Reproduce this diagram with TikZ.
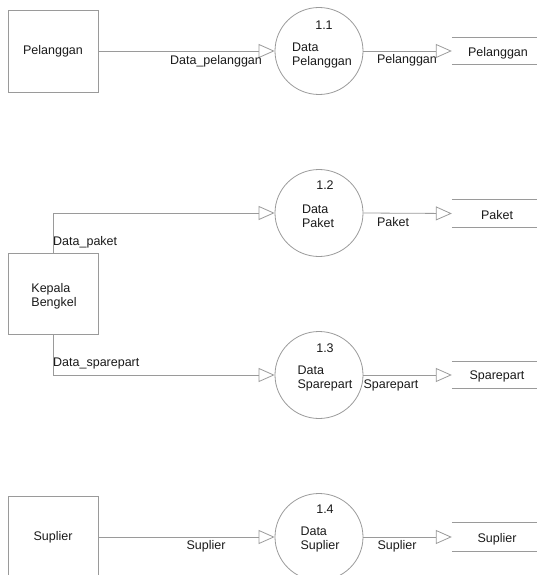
\documentclass[tikz,border=0pt]{standalone}
\usepackage{fontspec}
\setmainfont{Liberation Sans}
\usetikzlibrary{arrows.meta}
\definecolor{linegray}{HTML}{9A9A9A}
\definecolor{txt}{HTML}{1A1A1A}
\tikzset{
  every node/.style={font=\fontsize{12.5}{14}\selectfont, text=txt},
  entity/.style={draw=linegray, line width=0.8pt, minimum width=90pt, minimum height=82pt, inner sep=0pt},
  proc/.style={draw=linegray, line width=0.8pt, ellipse, minimum width=88pt, minimum height=87pt, inner sep=0pt},
  store/.style={minimum width=85pt, inner sep=0pt},
  storeline/.style={draw=linegray, line width=0.8pt},
  flow/.style={draw=linegray, line width=0.8pt, -{Triangle[open, length=16pt, width=14pt]}},
  flowlabel/.style={inner sep=0pt},
}
\usetikzlibrary{shapes.geometric}
\begin{document}
\begin{tikzpicture}[x=1pt,y=-1pt]
\useasboundingbox (0,0) rectangle (537,575);
% entities
\node[entity] (e1) at (53,51) {Pelanggan};
\node[entity, minimum height=81pt] (e2) at (53,293.5) {};
\node[align=left, inner sep=0pt] (e2t) at (54,296) {Kepala\\Bengkel};
\node[entity] (e3) at (53,537) {Suplier};
% processes
\node[proc] (p1) at (319,51) {};
\node[proc] (p2) at (319,213) {};
\node[proc] (p3) at (319,375) {};
\node[proc] (p4) at (319,537) {};
\node[inner sep=0pt] (p1n) at (324,25) {1.1};
\node[inner sep=0pt] (p2n) at (325,185) {1.2};
\node[inner sep=0pt] (p3n) at (325,348) {1.3};
\node[inner sep=0pt] (p4n) at (325,509) {1.4};
\node[align=left, inner sep=0pt] (p1t) at (322,55) {Data\\Pelanggan};
\node[align=left, inner sep=0pt] (p2t) at (318,216) {Data\\Paket};
\node[align=left, inner sep=0pt] (p3t) at (325,378) {Data\\Sparepart};
\node[align=left, inner sep=0pt] (p4t) at (320,539) {Data\\Suplier};
% stores
\node[store, minimum height=26pt] (s1) at (494.5,51) {};
\node[store, minimum height=27pt] (s2) at (494.5,213.5) {};
\node[store, minimum height=26pt] (s3) at (494.5,375) {};
\node[store, minimum height=28pt] (s4) at (494.5,537) {};
\node[inner sep=0pt] (s1t) at (498,53) {Pelanggan};
\node[inner sep=0pt] (s2t) at (497,215) {Paket};
\node[inner sep=0pt] (s3t) at (497,376) {Sparepart};
\node[inner sep=0pt] (s4t) at (497,539) {Suplier};
\foreach \s in {s1,s2,s3,s4}{
  \draw[storeline] (\s.north west) -- (\s.north east);
  \draw[storeline] (\s.south west) -- (\s.south east);
}
% flows
\draw[flow] (e1.east) -- (p1.west);
\draw[flow] (e2.north) |- (p2.west);
\draw[flow] (e2.south) |- (p3.west);
\draw[flow] (e3.east) -- (p4.west);
\draw[flow] (p1.east) -- (s1.west);
\draw[flow] (p2.east) -- (s2.west);
\draw[flow] (p3.east) -- (s3.west);
\draw[flow] (p4.east) -- (s4.west);
% flow labels
\node[flowlabel] (l1) at (216,61) {Data\_pelanggan};
\node[flowlabel] (l2) at (407,60) {Pelanggan};
\node[flowlabel, anchor=west] (l3) at (53,242) {Data\_paket};
\node[flowlabel] (l4) at (393,222) {Paket};
\node[flowlabel, anchor=west] (l5) at (53,363) {Data\_sparepart};
\node[flowlabel] (l6) at (391,385) {Sparepart};
\node[flowlabel] (l7) at (206,546) {Suplier};
\node[flowlabel] (l8) at (397,546) {Suplier};
\end{tikzpicture}
\end{document}
